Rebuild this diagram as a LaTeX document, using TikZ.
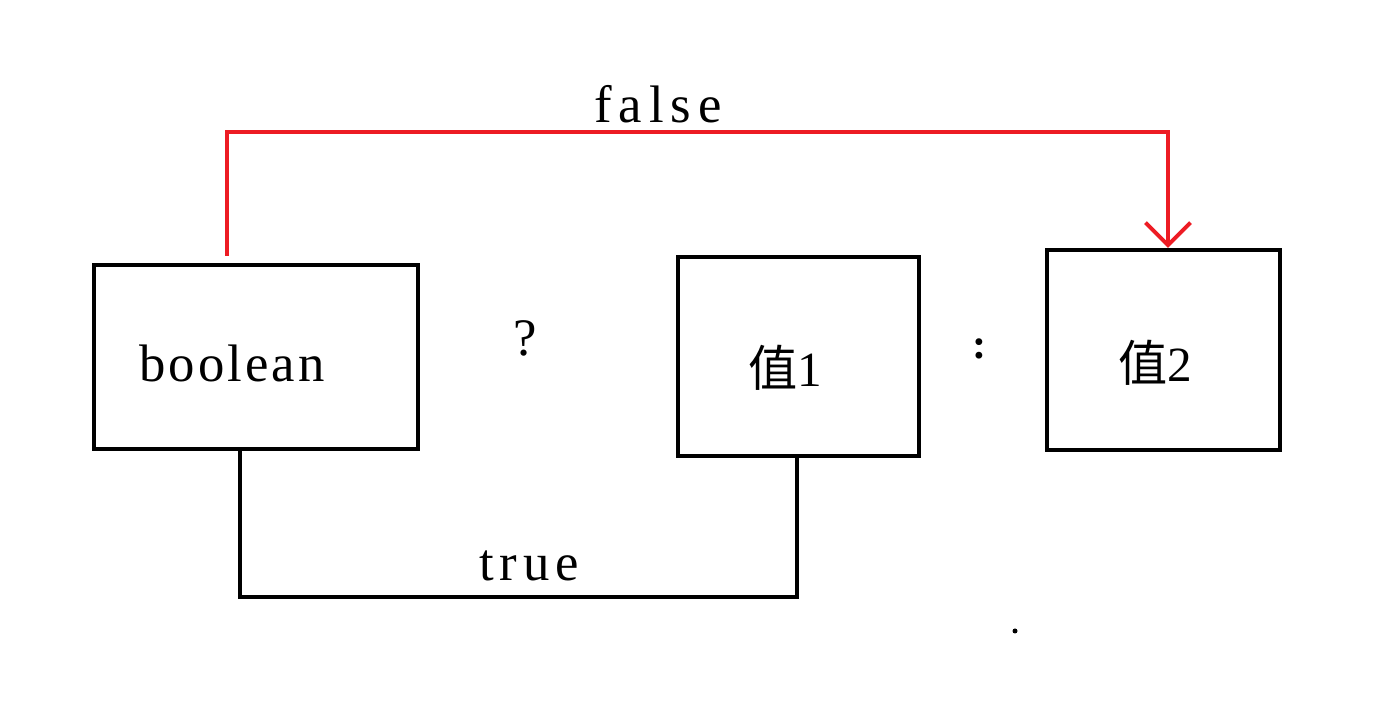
\documentclass[tikz,border=0pt]{standalone}
\usepackage{fontspec}
\setmainfont[LetterSpace=6]{Liberation Serif}
\newfontfamily\cjk{Noto Sans CJK SC}
\usepackage{tikz}
\usetikzlibrary{positioning, arrows.meta}

\definecolor{paintred}{RGB}{237,28,36}

\begin{document}
\begin{tikzpicture}
            [box/.style={draw, line width=0.08cm, inner sep=0pt},
             txt/.style={font=\fontsize{30}{36}\selectfont, inner sep=0pt, anchor=base},
             cjktxt/.style={font=\fontsize{28}{34}\selectfont, inner sep=0pt, anchor=base},
             falseline/.style={draw=paintred, line width=0.08cm},
             trueline/.style={draw=black, line width=0.08cm},
             >={Straight Barb[length=0.45cm, width=0.9cm]}]
            \useasboundingbox (0,0) rectangle (27.56,14.24);

            \node[box, minimum width=6.48cm, minimum height=3.68cm] (cond) at (5.12,7.10) {};
            \node[box, minimum width=4.82cm, minimum height=3.98cm] (val1) at (15.97,7.11) {};
            \node[box, minimum width=4.66cm, minimum height=4.00cm] (val2) at (23.27,7.24) {};

            \node[txt] (condtxt) at (4.64,6.60) {boolean};
            \node[cjktxt] (val1txt) at (15.70,6.50) {{\cjk 值}1};
            \node[cjktxt] (val2txt) at (23.10,6.60) {{\cjk 值}2};
            \node[txt] (qmark) at (10.50,7.12) {?};
            \node[txt, font=\bfseries\fontsize{24}{28}\selectfont] (colon) at (19.60,7.06) {:};
            \node[txt] (falsetxt) at (13.16,11.78) {\addfontfeature{LetterSpace=13}false};
            \node[txt] (truetxt) at (10.58,2.62) {\addfontfeature{LetterSpace=11}true};
            \node[circle, fill=black, inner sep=0pt, minimum size=0.1cm] (dot) at (20.30,1.62) {};

            \path[falseline, ->] ([xshift=-0.58cm, yshift=0.14cm]cond.north) -- ++(0,2.48)
                -| ([xshift=0.09cm]val2.north);
            \path[trueline] ([xshift=-0.32cm]cond.south) -- ++(0,-2.92)
                -| ([xshift=-0.03cm]val1.south);
        \end{tikzpicture}
\end{document}
